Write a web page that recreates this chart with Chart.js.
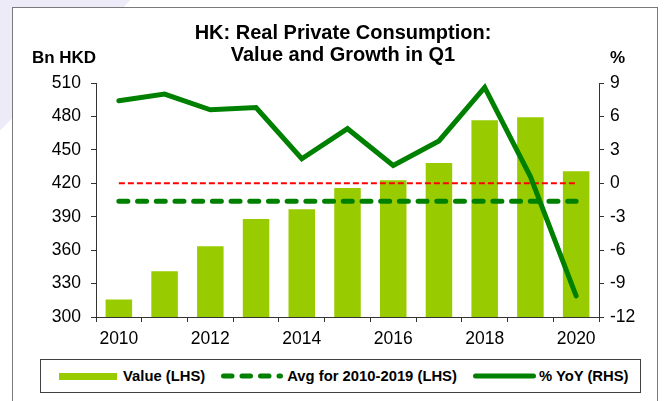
<!DOCTYPE html>
<html>
<head>
<meta charset="utf-8">
<title>HK: Real Private Consumption</title>
<script src="https://cdn.jsdelivr.net/npm/chart.js@4.4.1/dist/chart.umd.min.js"></script>
<style>
    html, body { margin: 0; padding: 0; }
    body {
        width: 665px; height: 401px; position: relative; overflow: hidden; background: #ffffff;
        font-family: "Liberation Sans", Arial, sans-serif;
    }
    /* faint slide decoration behind the chart frame */
    .bg-shape {
        position: absolute; left: 0; top: 0; width: 170px; height: 140px;
        background: linear-gradient(135deg, #ecebf7 0%, #ecebf7 42%, rgba(255,255,255,0) 42%);
    }
    .frame {
        position: absolute; left: 12px; top: 7px; width: 646px; height: 430px;
        box-sizing: border-box; border: 1px solid #7a7a7a; background: #ffffff;
    }
    /* canvas is a bit wider than the page so the centred title lands where the original has it */
    #consumptionChart { position: absolute; left: 0; top: 0; }
    .legend {
        position: absolute; left: 40px; top: 359px; width: 601px; height: 34px;
        box-sizing: border-box; border: 1px solid #404040; background: #ffffff;
        display: flex; align-items: center; padding-left: 18px;
        font-weight: bold; font-size: 14.8px; color: #000000; white-space: nowrap;
    }
    .legend svg { display: block; flex-shrink: 0; }
</style>
</head>
<body>
<div class="bg-shape"></div>
<div class="frame"></div>
<canvas id="consumptionChart" width="686" height="401"></canvas>
<div class="legend" id="consumption-legend"></div>

<script>
// HK real private consumption in Q1: bars = value (left axis, Bn HKD), line = % YoY (right axis)
// dashed green = 2010-2019 average value, dashed red = 0% line of the right axis

const YEARS = ["2010", "2011", "2012", "2013", "2014", "2015", "2016", "2017", "2018", "2019", "2020"];
const VALUE_BN_HKD = [315.6, 341.0, 363.5, 388.0, 396.7, 415.8, 422.7, 438.2, 476.6, 479.3, 430.8];
const YOY_PCT = [7.4, 8.0, 6.6, 6.8, 2.2, 4.9, 1.6, 3.8, 8.6, 0.6, -10.1];
const AVG_2010_2019 = 403.8;

const LEFT_TICKS = [300, 330, 360, 390, 420, 450, 480, 510];
const RIGHT_TICKS = [-12, -9, -6, -3, 0, 3, 6, 9];

const BAR_COLOR = "#99CC00";
const LINE_GREEN = "#008000";
const ZERO_RED = "#FF0000";
const AXIS_COLOR = "#333333";
const FONT_FAMILY = "'Liberation Sans', Arial, sans-serif";

// unit captions above each y axis ("Bn HKD" on the left, "%" on the right)
const axisUnitsPlugin = {
    id: "axisUnits",
    afterDraw(chart) {
        const { ctx, chartArea } = chart;
        ctx.save();
        ctx.fillStyle = "#000000";
        ctx.font = `bold 17px ${FONT_FAMILY}`;
        ctx.textBaseline = "middle";
        ctx.textAlign = "center";
        ctx.fillText("Bn HKD", chartArea.left - 32, chartArea.top - 25);
        ctx.textAlign = "left";
        ctx.fillText("%", chartArea.right + 11, chartArea.top - 25);
        ctx.restore();
    }
};

function renderConsumptionChart() {
    const ctx = document.getElementById("consumptionChart");
    return new Chart(ctx, {
        type: "bar",
        data: {
            labels: YEARS,
            datasets: [
                {
                    type: "line",
                    label: "% YoY (RHS)",
                    data: YOY_PCT,
                    yAxisID: "y1",
                    borderColor: LINE_GREEN,
                    borderWidth: 5,
                    borderCapStyle: "round",
                    pointRadius: 0,
                    tension: 0,
                    order: 1
                },
                {
                    type: "line",
                    label: "Avg for 2010-2019 (LHS)",
                    data: YEARS.map(() => AVG_2010_2019),
                    yAxisID: "y",
                    borderColor: LINE_GREEN,
                    borderWidth: 5,
                    borderDash: [9, 9.7],
                    borderCapStyle: "round",
                    pointRadius: 0,
                    order: 2
                },
                {
                    type: "line",
                    label: "zero",
                    data: YEARS.map(() => 0),
                    yAxisID: "y1",
                    borderColor: ZERO_RED,
                    borderWidth: 2,
                    borderDash: [6, 3],
                    pointRadius: 0,
                    order: 3
                },
                {
                    label: "Value (LHS)",
                    data: VALUE_BN_HKD,
                    yAxisID: "y",
                    backgroundColor: BAR_COLOR,
                    barPercentage: 0.58,
                    categoryPercentage: 1,
                    order: 4
                }
            ]
        },
        options: {
            responsive: false,
            animation: false,
            events: [],
            devicePixelRatio: 1,
            layout: { padding: 0 },
            scales: {
                x: {
                    offset: true,
                    grid: { offset: true, drawOnChartArea: false, drawTicks: true, tickLength: 5, color: AXIS_COLOR },
                    border: { color: AXIS_COLOR, width: 1 },
                    ticks: {
                        autoSkip: false,
                        maxRotation: 0,
                        padding: 7,
                        color: "#000000",
                        font: { family: FONT_FAMILY, size: 17.5 },
                        callback: (value, index) => (index % 2 === 0 ? YEARS[index] : "")
                    },
                    afterFit: (scale) => { scale.height = 84; }
                },
                y: {
                    position: "left",
                    min: LEFT_TICKS[0],
                    max: LEFT_TICKS[LEFT_TICKS.length - 1],
                    grid: { drawOnChartArea: false, drawTicks: true, tickLength: 5, color: AXIS_COLOR },
                    border: { color: AXIS_COLOR, width: 1 },
                    ticks: {
                        stepSize: LEFT_TICKS[1] - LEFT_TICKS[0],
                        padding: 10,
                        color: "#000000",
                        font: { family: FONT_FAMILY, size: 17.5 }
                    },
                    afterFit: (scale) => { scale.width = 96; }
                },
                y1: {
                    position: "right",
                    min: RIGHT_TICKS[0],
                    max: RIGHT_TICKS[RIGHT_TICKS.length - 1],
                    grid: { drawOnChartArea: false, drawTicks: true, tickLength: 5, color: AXIS_COLOR },
                    border: { color: AXIS_COLOR, width: 1 },
                    ticks: {
                        stepSize: RIGHT_TICKS[1] - RIGHT_TICKS[0],
                        padding: 6,
                        color: "#000000",
                        font: { family: FONT_FAMILY, size: 17.5 }
                    },
                    afterFit: (scale) => { scale.width = 87; }
                }
            },
            plugins: {
                legend: { display: false },
                tooltip: { enabled: false },
                title: {
                    display: true,
                    text: ["HK: Real Private Consumption:", "Value and Growth in Q1"],
                    color: "#000000",
                    font: { family: FONT_FAMILY, size: 20, weight: "bold", lineHeight: 1.1 },
                    padding: { top: 22, bottom: 17 }
                }
            }
        },
        plugins: [axisUnitsPlugin]
    });
}

// HTML legend: bar swatch, dashed line swatch, solid line swatch
function renderConsumptionLegend() {
    const container = document.getElementById("consumption-legend");
    container.innerHTML = `
        <span style="width:58px;height:7px;background:${BAR_COLOR};flex-shrink:0"></span>
        <span style="margin-left:6px">Value (LHS)</span>
        <svg width="62" height="10" style="margin-left:16px">
            <line x1="2.5" y1="5" x2="59.5" y2="5" stroke="${LINE_GREEN}" stroke-width="5"
                  stroke-linecap="round" stroke-dasharray="8.5 10"></line>
        </svg>
        <span style="margin-left:4px">Avg for 2010-2019 (LHS)</span>
        <svg width="63" height="10" style="margin-left:16px">
            <line x1="2.5" y1="5" x2="60.5" y2="5" stroke="${LINE_GREEN}" stroke-width="5"
                  stroke-linecap="round"></line>
        </svg>
        <span style="margin-left:3px">% YoY (RHS)</span>
    `;
}

renderConsumptionChart();
renderConsumptionLegend();
</script>
</body>
</html>
